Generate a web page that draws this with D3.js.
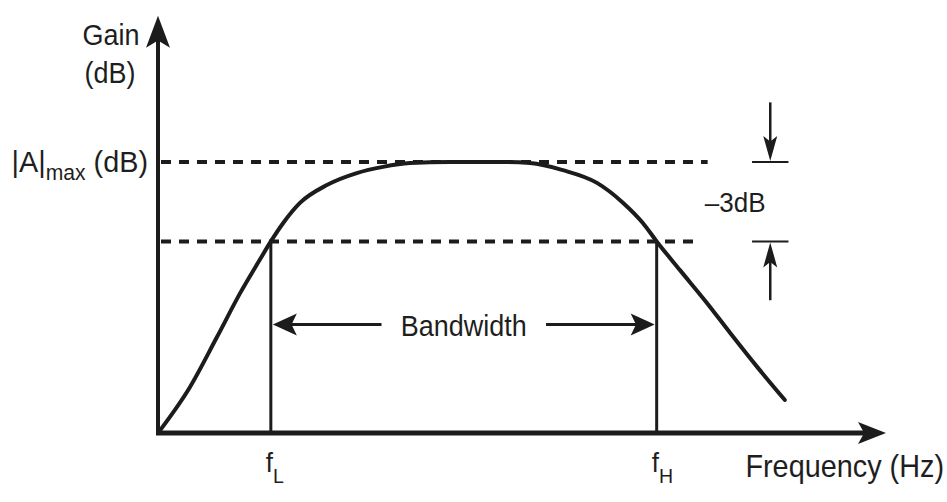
<!DOCTYPE html>
<html>
<head>
<meta charset="utf-8">
<script src="https://cdn.jsdelivr.net/npm/d3@7"></script>
<style>
  html, body { margin: 0; padding: 0; background: #fff; }
  svg text { font-family: "Liberation Sans", Arial, Helvetica, sans-serif; fill: #1e1e1e; }
</style>
</head>
<body>
<div id="chart"></div>
<script>
// frequency (arbitrary units along the axis) and normalised gain (|A|max = 1)
var freq = [0, 0.44, 0.81, 1.13, 1.40, 1.55, 1.72, 1.95, 2.32, 2.73, 3.09, 3.46, 4.01, 4.70, 5.11, 5.56, 6.03, 6.39, 6.66, 6.85, 7.17, 7.54, 7.86, 8.23, 8.61];
var gain = [0, 0.17, 0.354, 0.517, 0.64, 0.707, 0.775, 0.849, 0.915, 0.959, 0.982, 0.996, 1.0, 1.0, 0.996, 0.970, 0.923, 0.849, 0.775, 0.707, 0.601, 0.480, 0.369, 0.244, 0.122];

// reference levels: |A|max and the -3dB level
var levelGain = [1, 0.707];
var levelEnd = [7.55, 7.45];

// cutoff frequencies
var cutoffNames = ["L", "H"];
var cutoffFreq = [1.55, 6.85];

var freqMax = 10;
var gainMax = 1.54;

var width = 947, height = 502;

var x = d3.scaleLinear().domain([0, freqMax]).range([158, 886]);
var y = d3.scaleLinear().domain([0, 1]).range([433, 162]);

var ink = "#1c1c1c";

var svg = d3.select("#chart").append("svg")
  .attr("width", width)
  .attr("height", height);

// filled arrow head with a small notch, pointing along angle (deg)
function arrowHead(tx, ty, angle, len, half) {
  var a = angle * Math.PI / 180;
  var c = Math.cos(a), s = Math.sin(a);
  function pt(u, v) { return [tx + u * c - v * s, ty + u * s + v * c]; }
  var p = [pt(0, 0), pt(-len, -half), pt(-len * 0.78, 0), pt(-len, half)];
  return "M" + p.map(function(d) { return d.join(","); }).join("L") + "Z";
}

function label(txt, px, py, size, anchor) {
  return svg.append("text")
    .attr("transform", "translate(" + px + "," + py + ") scale(0.93,1)")
    .attr("text-anchor", anchor || "start")
    .attr("font-size", size)
    .text(txt);
}

// dashed reference levels
svg.selectAll(".level")
  .data(levelGain)
  .enter().append("line")
  .attr("class", "level")
  .attr("x1", x(0) + 3)
  .attr("x2", function(d, i) { return x(levelEnd[i]); })
  .attr("y1", function(d) { return y(d); })
  .attr("y2", function(d) { return y(d); })
  .attr("stroke", ink)
  .attr("stroke-width", 4)
  .attr("stroke-dasharray", "10,8");

// cutoff verticals
svg.selectAll(".cutoff")
  .data(cutoffFreq)
  .enter().append("line")
  .attr("class", "cutoff")
  .attr("x1", function(d) { return x(d); })
  .attr("x2", function(d) { return x(d); })
  .attr("y1", y(levelGain[1]))
  .attr("y2", y(0))
  .attr("stroke", ink)
  .attr("stroke-width", 3);

// response curve
var line = d3.line()
  .x(function(d, i) { return x(freq[i]); })
  .y(function(d) { return y(d); })
  .curve(d3.curveMonotoneX);

svg.append("path")
  .datum(gain)
  .attr("d", line)
  .attr("fill", "none")
  .attr("stroke", ink)
  .attr("stroke-width", 4)
  .attr("stroke-linecap", "round");

// axes
svg.append("line")
  .attr("x1", x(0)).attr("x2", x(0))
  .attr("y1", y(0) + 2).attr("y2", y(gainMax) + 20)
  .attr("stroke", ink).attr("stroke-width", 4);
svg.append("path")
  .attr("d", arrowHead(x(0), y(gainMax), -90, 32, 12))
  .attr("fill", ink);

svg.append("line")
  .attr("x1", x(0) - 2).attr("x2", x(freqMax) - 16)
  .attr("y1", y(0)).attr("y2", y(0))
  .attr("stroke", ink).attr("stroke-width", 5);
svg.append("path")
  .attr("d", arrowHead(x(freqMax), y(0), 0, 28, 11))
  .attr("fill", ink);

// bandwidth arrows
var bwGain = 0.40;
var bwMid = (cutoffFreq[0] + cutoffFreq[1]) / 2;
var bwGap = 1.13;
svg.append("line")
  .attr("x1", x(cutoffFreq[0]) + 10).attr("x2", x(bwMid - bwGap))
  .attr("y1", y(bwGain)).attr("y2", y(bwGain))
  .attr("stroke", ink).attr("stroke-width", 3);
svg.append("path")
  .attr("d", arrowHead(x(cutoffFreq[0]) + 2, y(bwGain), 180, 24, 11))
  .attr("fill", ink);
svg.append("line")
  .attr("x1", x(bwMid + bwGap)).attr("x2", x(cutoffFreq[1]) - 10)
  .attr("y1", y(bwGain)).attr("y2", y(bwGain))
  .attr("stroke", ink).attr("stroke-width", 3);
svg.append("path")
  .attr("d", arrowHead(x(cutoffFreq[1]) - 2, y(bwGain), 0, 24, 11))
  .attr("fill", ink);
label("Bandwidth", x(bwMid), y(bwGain) + 11, 29, "middle");

// -3dB markers
var mk = 8.41, mkHalf = 0.25;
svg.selectAll(".tick3")
  .data(levelGain)
  .enter().append("line")
  .attr("x1", x(mk - mkHalf)).attr("x2", x(mk + mkHalf))
  .attr("y1", function(d) { return y(d); })
  .attr("y2", function(d) { return y(d); })
  .attr("stroke", ink).attr("stroke-width", 2);
svg.append("line")
  .attr("x1", x(mk)).attr("x2", x(mk))
  .attr("y1", y(1.22)).attr("y2", y(levelGain[0]) - 10)
  .attr("stroke", ink).attr("stroke-width", 2.5);
svg.append("path")
  .attr("d", arrowHead(x(mk), y(levelGain[0]) - 1, 90, 25, 7))
  .attr("fill", ink);
svg.append("line")
  .attr("x1", x(mk)).attr("x2", x(mk))
  .attr("y1", y(0.49)).attr("y2", y(levelGain[1]) + 10)
  .attr("stroke", ink).attr("stroke-width", 2.5);
svg.append("path")
  .attr("d", arrowHead(x(mk), y(levelGain[1]) + 1, -90, 25, 7))
  .attr("fill", ink);
label("\u20133dB", x(mk) - 35, 212, 28, "middle");

// axis titles
label("Gain", 111, 45, 29, "middle");
label("(dB)", 110, 83, 29, "middle");

var amax = svg.append("text")
  .attr("transform", "translate(148," + (y(levelGain[0]) + 10) + ") scale(0.96,1)")
  .attr("text-anchor", "end")
  .attr("font-size", 30);
amax.append("tspan").text("|A|");
amax.append("tspan").attr("font-size", 22).attr("dy", 8).text("max");
amax.append("tspan").attr("dy", -8).text(" (dB)");

// cutoff labels
cutoffNames.forEach(function(n, i) {
  var t = svg.append("text")
    .attr("transform", "translate(" + (x(cutoffFreq[i]) - 5) + ",472) scale(0.93,1)")
    .attr("font-size", 28);
  t.append("tspan").text("f");
  t.append("tspan").attr("font-size", 21).attr("dy", 11).text(n);
});

label("Frequency (Hz)", 944, 477, 31, "end");
</script>
</body>
</html>
